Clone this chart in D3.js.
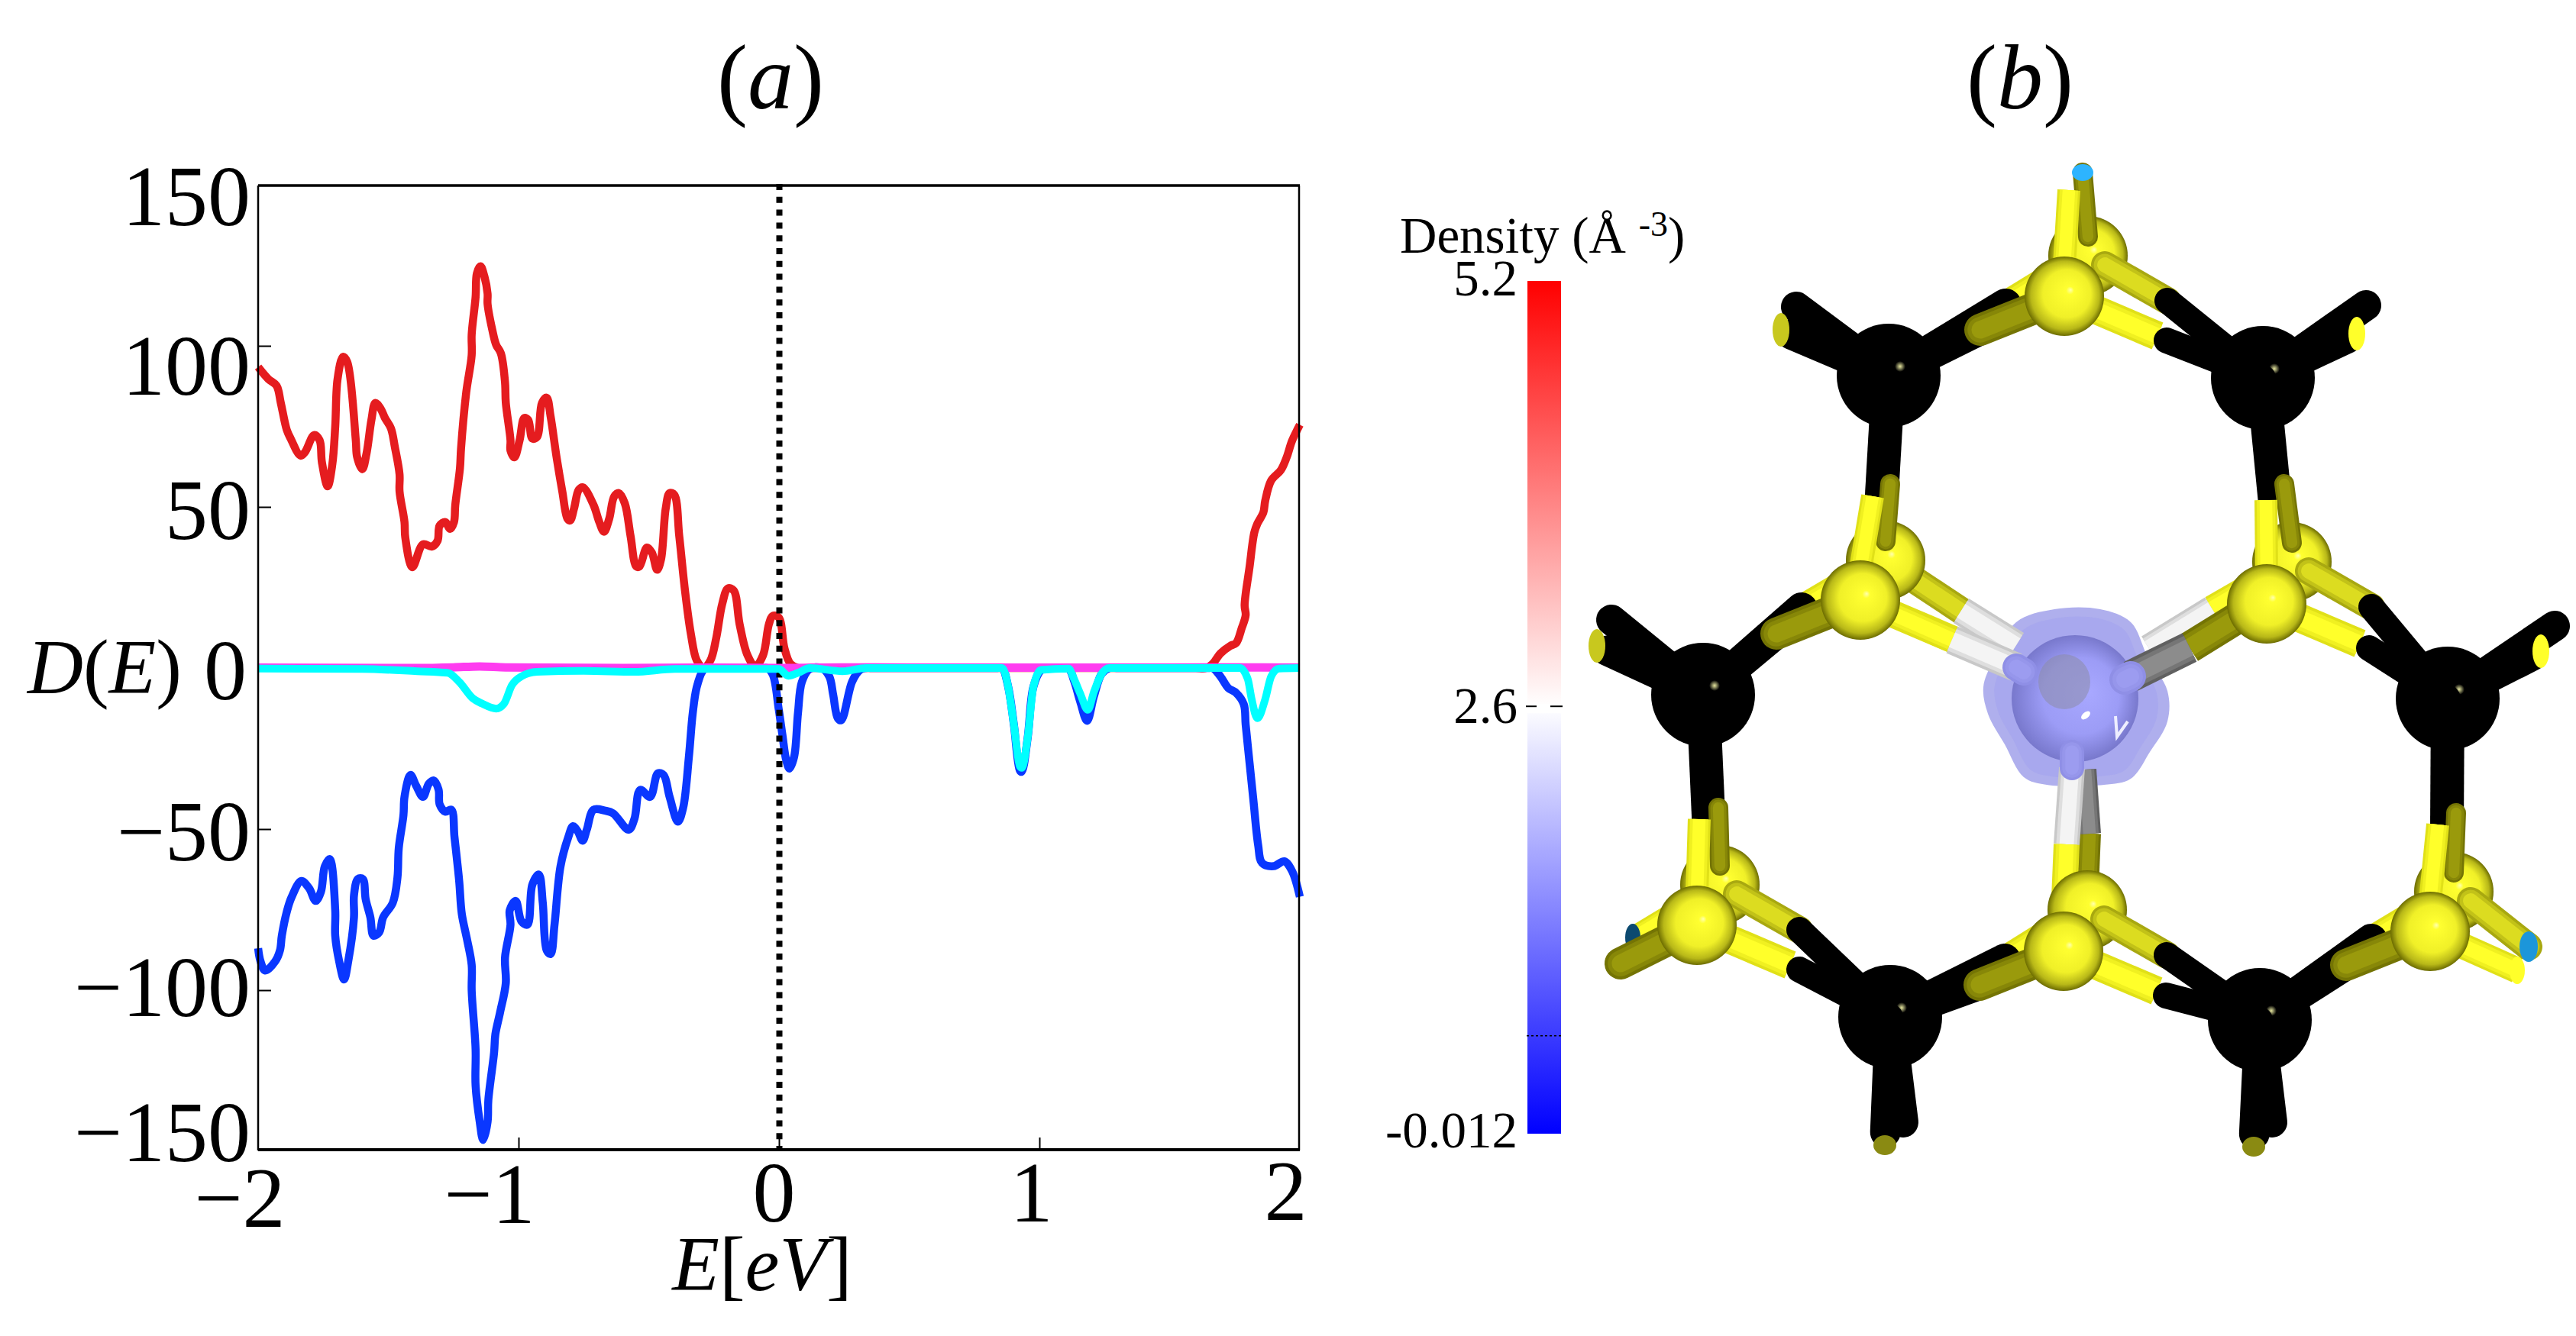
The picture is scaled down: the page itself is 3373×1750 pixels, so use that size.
<!DOCTYPE html>
<html><head><meta charset="utf-8"><script src="https://cdn.jsdelivr.net/npm/d3@7"></script>
<style>html,body{margin:0;background:#fff}svg{display:block}text{font-family:"Liberation Serif",serif;fill:#000}</style></head>
<body><svg id="c" width="3373" height="1750"></svg>
<script>
// ---- panel (a) data: density of states, E in eV ----
const redE=[-2,-1.961,-1.929,-1.913,-1.89,-1.875,-1.837,-1.82,-1.785,-1.764,-1.755,-1.733,-1.715,-1.704,-1.695,-1.674,-1.658,-1.625,-1.62,-1.6,-1.584,-1.565,-1.55,-1.531,-1.513,-1.49,-1.475,-1.457,-1.457,-1.438,-1.435,-1.408,-1.367,-1.333,-1.311,-1.303,-1.281,-1.263,-1.248,-1.243,-1.225,-1.221,-1.201,-1.18,-1.18,-1.165,-1.16,-1.146,-1.131,-1.119,-1.119,-1.101,-1.086,-1.068,-1.052,-1.049,-1.031,-1.031,-1.016,-.996,-.978,-.963,-.947,-.929,-.91,-.892,-.877,-.854,-.832,-.812,-.802,-.787,-.769,-.753,-.712,-.69,-.672,-.652,-.633,-.615,-.592,-.57,-.548,-.536,-.507,-.488,-.468,-.453,-.435,-.42,-.402,-.383,-.361,-.338,-.316,-.289,-.263,-.241,-.218,-.196,-.174,-.151,-.121,-.091,-.061,-.039,-.024,-.001,.021,.043,.073,.12,.2,.5,1.0,1.5,1.6,1.64,1.665,1.695,1.733,1.755,1.777,1.792,1.788,1.807,1.825,1.837,1.86,1.867,1.89,1.927,1.949,1.97,2];
const redD=[93.4,89.7,87.6,82.3,73.9,71.2,65.9,67,72.3,70.7,63.8,56.4,63.3,74.9,89.7,96.6,95,70.7,65.5,61.7,66.5,77,82.3,80.7,77.6,74.4,68.6,60.1,54.8,45.3,40.5,31.3,38.4,37.7,39.5,44.2,45.3,43.2,45.3,50.6,62,68,85.5,97.1,103.5,115.1,122.5,124.7,121.5,116.2,113,105,100.3,97.7,88.7,82.3,70.7,67.5,65.4,70.7,77.6,77,71.2,71.7,82.3,83.9,78.1,65.4,54.8,46.3,45.8,49.5,55.3,56.1,50.6,45.3,42.3,46.3,53.2,54.3,51.1,41,31.5,31.5,37.4,35.8,30.5,33.7,49.5,54.3,53.8,41,24.1,10.4,2.4,0,2.4,9.3,19.9,24.7,24.1,13.5,4,.5,4,13.5,16.2,15.7,6.1,1.4,0,0,0,0,0,0,0,0,1.3,4.5,6.9,7.7,12.4,16.4,19.5,31.4,42,44.8,48.3,51.9,58.2,61.4,65.3,70.5,75.5];
const blueE=[-2,-1.991,-1.973,-1.934,-1.916,-1.909,-1.89,-1.872,-1.834,-1.804,-1.779,-1.759,-1.744,-1.725,-1.704,-1.704,-1.689,-1.67,-1.654,-1.632,-1.632,-1.617,-1.598,-1.587,-1.569,-1.557,-1.535,-1.52,-1.483,-1.465,-1.46,-1.442,-1.438,-1.415,-1.393,-1.367,-1.345,-1.326,-1.307,-1.303,-1.281,-1.258,-1.246,-1.228,-1.218,-1.198,-1.18,-1.18,-1.165,-1.165,-1.149,-1.136,-1.119,-1.116,-1.094,-1.089,-1.071,-1.049,-1.052,-1.031,-1.034,-1.011,-.989,-.966,-.947,-.922,-.907,-.892,-.877,-.862,-.839,-.809,-.791,-.772,-.754,-.738,-.712,-.667,-.637,-.577,-.555,-.533,-.495,-.465,-.443,-.42,-.388,-.368,-.346,-.331,-.316,-.293,-.278,-.24,-.18,-.1,-.06,-.046,-.024,-.001,.013,.028,.04,.058,.073,.088,.118,.163,.193,.208,.226,.239,.281,.311,.334,.36,.4,.5,.6,.7,.8,.84,.857,.88,.902,.925,.932,.955,.977,1.007,1.03,1.07,1.112,1.134,1.157,1.183,1.209,1.239,1.269,1.3,1.35,1.45,1.55,1.62,1.65,1.665,1.695,1.725,1.755,1.785,1.792,1.807,1.822,1.84,1.855,1.9,1.94,1.97,2];
const blueD=[-87,-91,-93.9,-91,-87.6,-83.1,-75.7,-71.2,-66.1,-68.4,-72.3,-69.5,-61.6,-59.3,-75.2,-83.1,-91,-96.7,-91,-77.4,-70.6,-65.5,-65.5,-71.8,-77.4,-83.1,-82,-77.4,-72.9,-65,-55.9,-45.7,-40,-33.2,-36.6,-40,-36,-34.9,-37.8,-42.3,-44.6,-44,-52.5,-66.1,-76.3,-84.2,-92.2,-100.1,-118.3,-129.6,-140.9,-146.5,-140.9,-134.1,-119.4,-113.7,-106.9,-97.8,-89.9,-79.7,-75.2,-72.3,-78.6,-79.7,-67.2,-64.1,-72.9,-87.6,-88.8,-79.7,-61.6,-52.5,-49.1,-50.8,-53.6,-50.2,-44,-44.3,-45.1,-50.2,-46.8,-37.8,-40,-32.7,-33.2,-40,-47.7,-43.4,-27.6,-13.9,-6,-.9,0,0,0,0,0,0,-2,-12.8,-20.7,-28.7,-31.2,-27.6,-13.9,-4.3,-.3,0,-2.6,-8.3,-15.6,-16.2,-4.2,-.6,0,0,0,0,0,0,0,0,0,-5.8,-17.6,-31.8,-32.2,-21.6,-5.8,-.6,0,0,-.2,-4.2,-10.5,-16.4,-8.9,-1.8,0,0,0,0,0,0,0,0,-2.6,-6.2,-7.7,-11.3,-17.6,-29.5,-41.3,-55,-60.5,-61.5,-60,-63,-71];
const magentaE=[-2,-1.4,-1.25,-1.15,-1.05,-.6,-.3,.04,.24,.5,.93,1.18,1.5,1.85,2];
const magentaD=[.1,0,.2,.5,.2,0,.1,0,.2,.1,.1,.1,.1,.2,.1];
const cyanE=[-2,-1.6,-1.39,-1.273,-1.228,-1.176,-1.139,-1.086,-1.056,-1.026,-.989,-.929,-.75,-.555,-.4,-.001,.036,.073,.118,.244,.334,.857,.88,.902,.925,.932,.955,.977,1.007,1.112,1.134,1.157,1.186,1.209,1.239,1.269,1.77,1.8,1.815,1.837,1.867,1.89,1.92,2];
const cyanD=[-.2,-.3,-1,-1.5,-4.3,-9.4,-11.1,-12.6,-11.1,-5.4,-2.6,-1.2,-.9,-1.2,-.3,-.3,-2.4,-1.5,0,-1,0,0,-5.8,-17.6,-30.5,-31,-21.6,-5.8,-.6,-.2,-3.6,-8,-13,-7.5,-1.8,0,0,-3.4,-9.7,-15.6,-9.7,-2.6,-.2,0];
const xTicks=[-2,-1,0,1,2], yTicks=[-150,-100,-50,0,50,100,150];
const fermiEnergy=0;
// ---- panel (b) data ----
const barValues=[-0.012,2.6,5.2], barLabels=["-0.012","2.6","5.2"], barDotted=0.587;
const carbon=[[2473,492],[2963,495],[2230,910],[3205,915],[2475,1332],[2959,1336]];
const sulfur=[
 {f:[2703,388],b:[2734,335],uf:[6,-139],ub:[-7,-109],l:0,r:1,u:-1},
 {f:[2436,786],b:[2469,734],uf:[16,-136],ub:[6,-100],l:2,r:-2,u:0},
 {f:[2968,791],b:[3001,736],uf:[-1,-136],ub:[-10,-102],l:-2,r:3,u:1},
 {f:[2222,1212],b:[2252,1159],uf:[3,-139],ub:[-2,-101],l:-3,r:4,u:2},
 {f:[2702,1246],b:[2733,1192],uf:[4,-140],ub:[3,-100],l:4,r:5,u:-2},
 {f:[3182,1220],b:[3213,1168],uf:[10,-140],ub:[3,-103],l:5,r:-3,u:3}];
const carbonStubs=[[0,2352,402,2332,432,"#c8c81e"],[1,3098,400,3086,437,"#ffff2a"],[2,2110,812,2091,846,"#c8c81e"],[3,3345,820,3327,853,"#ffff2a"],[4,2492,1470,2468,1500,"#8a8a12"],[5,2975,1470,2951,1502,"#8a8a12"]];
const centre=[2717,915], centreR=83;
const blob=[[2690,798],[2750,798],[2790,815],[2812,860],[2838,905],[2838,945],[2815,985],[2790,1020],[2755,1028],[2680,1028],[2650,1018],[2625,975],[2603,935],[2597,900],[2610,865],[2640,815]];

const svg=d3.select("#c");
const x=d3.scaleLinear().domain([-2,2]).range([338,1702]);
const y=d3.scaleLinear().domain([-150,150]).range([1508,242]);
const lineSmooth=d3.line().curve(d3.curveCatmullRom.alpha(.5)).x(d=>x(d[0])).y(d=>y(d[1]));
const lineFlat=d3.line().curve(d3.curveMonotoneX).x(d=>x(d[0])).y(d=>y(d[1]));
const series=(e,v)=>e.map((a,i)=>[a,v[i]]);
const g=svg.append("g");
const fs=112;
const axB=g.append("g").attr("transform",`translate(0,${y(-150)-1})`).call(d3.axisBottom(x).tickValues(xTicks).tickSizeInner(-17).tickSizeOuter(0).tickPadding(0).tickFormat(d=>String(d).replace("-","\u2212")));
const axL=g.append("g").attr("transform",`translate(${x(-2)},0)`).call(d3.axisLeft(y).tickValues(yTicks).tickSizeInner(-17).tickSizeOuter(0).tickPadding(0).tickFormat(d=>String(d).replace("-","\u2212")));
[axB,axL].forEach(a=>{a.select(".domain").remove();a.selectAll("line").attr("stroke","#000").attr("stroke-width",2);
 a.selectAll("text").attr("font-size",fs).attr("font-family","Liberation Serif").attr("fill","#000").attr("text-anchor","end").attr("dy",null);});
const xDx={"-2":35,"-1":21,"0":21,"1":17,"2":9}, xBase={"-2":1607,"-1":1602,"0":1600,"1":1600,"2":1598};
axB.selectAll("text").attr("x",d=>xDx[d]).attr("y",d=>xBase[d]-y(-150)+1);
const yCenter={150:256,100:478,50:667,0:877,"-50":1088,"-100":1292,"-150":1482};
axL.selectAll("text").attr("x",d=>d===0?-15:-10).attr("y",d=>yCenter[d]+38-y(d));
axL.selectAll("g.tick").filter(d=>d===0||Math.abs(d)===150).select("line").remove();
axB.selectAll("g.tick").filter(d=>Math.abs(d)===2).select("line").remove();
const curve=(e,v,c,w,gen)=>g.append("path").datum(series(e,v)).attr("d",gen).attr("fill","none").attr("stroke",c).attr("stroke-width",w).attr("stroke-linejoin","miter").attr("stroke-miterlimit",3);
curve(redE,redD,"#e51c1f",10.5,lineSmooth);
curve(blueE,blueD,"#0a37ff",10.5,lineSmooth);
g.append("line").attr("x1",x(fermiEnergy)+.5).attr("x2",x(fermiEnergy)+.5).attr("y1",241).attr("y2",1506).attr("stroke","#000").attr("stroke-width",8).attr("stroke-dasharray","8 8.8");
curve(magentaE,magentaD,"#ff3cf0",11,lineFlat);
curve(cyanE,cyanD,"#00ffff",10,lineFlat);
const fr=[[338,243,1702,243,3.5],[338,243,338,1507,2.5],[338,1506,1702,1506,4],[1701,243,1701,1507,2.5]];
g.selectAll("line.fr").data(fr).join("line").attr("class","fr").attr("x1",d=>d[0]).attr("y1",d=>d[1]).attr("x2",d=>d[2]).attr("y2",d=>d[3]).attr("stroke","#000").attr("stroke-width",d=>d[4]);
function rich(xp,yp,size,parts,anchor){const t=svg.append("text").attr("x",xp).attr("y",yp).attr("font-size",size).attr("text-anchor",anchor||"middle");
 parts.forEach(p=>t.append("tspan").attr("font-style",p[1]?"italic":"normal").text(p[0]));return t;}
rich(1009,142,120,[["(",0],["a",1],[")",0]]);
rich(2645,142,120,[["(",0],["b",1],[")",0]]);
rich(36,908,101,[["D",1],["(",0],["E",1],[")",0]],"start");
rich(998,1690,101,[["E",1],["[",0],["eV",1],["]",0]]);
const by=d3.scaleLinear().domain([barValues[0],barValues[2]]).range([1485,368]);
const col=d3.scaleLinear().domain(barValues).range(["#0000ff","#ffffff","#ff0000"]);
const defs=svg.append("defs");
const lg=defs.append("linearGradient").attr("id","bar").attr("x1",0).attr("x2",0).attr("y1",1).attr("y2",0);
barValues.forEach(v=>lg.append("stop").attr("offset",(by(barValues[0])-by(v))/(by(barValues[0])-by(barValues[2]))).attr("stop-color",col(v)));
svg.append("rect").attr("x",2000).attr("width",44).attr("y",by(5.2)).attr("height",by(barValues[0])-by(5.2)).attr("fill","url(#bar)");
svg.append("rect").attr("x",1998).attr("width",48).attr("y",by(2.6)-3).attr("height",12).attr("fill","#fff");
svg.selectAll("line.b").data([[1998,2012],[2030,2046]]).join("line").attr("x1",d=>d[0]).attr("x2",d=>d[1]).attr("y1",by(2.6)).attr("y2",by(2.6)).attr("stroke","#000").attr("stroke-width",2);
svg.append("line").attr("x1",1999).attr("x2",2046).attr("y1",by(barDotted)).attr("y2",by(barDotted)).attr("stroke","#000").attr("stroke-width",1.5).attr("stroke-dasharray","3 3");
const labelBase=[1503,947,387];
barLabels.forEach((l,i)=>svg.append("text").attr("x",1987).attr("y",labelBase[i]).attr("text-anchor","end").attr("font-size",67).text(l));
const dt=svg.append("text").attr("x",1833).attr("y",331).attr("font-size",67);
dt.append("tspan").text("Density (Å ");dt.append("tspan").attr("font-size",46).attr("dy",-22).text("-3");dt.append("tspan").attr("dy",22).text(")");
// ---- structure ----
const sx=d3.scaleLinear().domain([2000,3373]).range([2000,3373]), sy=d3.scaleLinear().domain([0,1750]).range([0,1750]);
const ball=(id,stops,cx,cy)=>{const r=defs.append("radialGradient").attr("id",id).attr("cx",.5).attr("cy",.5).attr("r",.5).attr("fx",cx).attr("fy",cy);stops.forEach(s=>r.append("stop").attr("offset",s[0]).attr("stop-color",s[1]));};
ball("sul",[[0,"#ffffb0"],[.1,"#ffff30"],[.6,"#f0f028"],[.86,"#b8b818"],[1,"#6c6c00"]],.58,.42);
ball("cen",[[0,"#a8a8ff"],[.6,"#9c9cf6"],[1,"#7878cc"]],.62,.45);
ball("spec",[[0,"#e8e8a0"],[1,"#000000"]],.5,.5);
const m=svg.append("g");
const S={bright:["#e0e018","#ffff2a"],mid:["#a8a810","#dcdc20"],olive:["#747404","#9a9a0c"],white:["#c8c8c8","#f4f4f4"],grey:["#606060","#8c8c8c"],tip:["#8f8fe6","#9c9cf0"]};
function cyl(p,q,w,t,cap){
 if(t==="black"){m.append("line").attr("x1",sx(p[0])).attr("y1",sy(p[1])).attr("x2",sx(q[0])).attr("y2",sy(q[1])).attr("stroke","#000").attr("stroke-width",w).attr("stroke-linecap",cap||"round");return;}
 const mix=d3.interpolateRgb(S[t][0],S[t][1]);
 [[0,1],[.5,.8],[1,.55]].forEach(([k,f])=>m.append("line").attr("x1",sx(p[0])).attr("y1",sy(p[1])).attr("x2",sx(q[0])).attr("y2",sy(q[1])).attr("stroke",mix(k)).attr("stroke-width",w*f).attr("stroke-linecap",cap||"butt"));}
const add=(a,d)=>[a[0]+d[0],a[1]+d[1]];
const mid=(a,b)=>[(a[0]+b[0])/2,(a[1]+b[1])/2];
function cap(p,c,rx,ry){m.append("ellipse").attr("cx",sx(p[0])).attr("cy",sy(p[1])).attr("rx",rx||13).attr("ry",ry||20).attr("fill",c);}
carbonStubs.forEach(s=>{const a=carbon[s[0]];const e=[a[0]+(s[3]-a[0])*.9,a[1]+(s[4]-a[1])*.9];cyl(a,[s[1],s[2]],40,"black");cyl(a,e,40,"black");});
carbonStubs.forEach((s,i)=>i<4?cap([s[3],s[4]],s[5],11,22):cap([s[3],s[4]],s[5],15,13));
sulfur.forEach(P=>{
 const lb=add(P.f,[-77,11]), lf=add(P.f,[-110,44]), rb=add(P.b,[104,59]), rf=add(P.f,[122,52]);
 if(P.l>=0){cyl(lb,add(P.b,[-20,10]),36,"bright");cyl(carbon[P.l],lb,42,"black");}
 else if(P.l===-3){cyl(P.b,[2138,1228],28,"bright");cap([2138,1228],"#0c4a70",10,18);}
 else {cyl(add(P.b,[-10,6]),[2896,797],34,"bright");cyl([2896,797],[2813,848],34,"white");}
 if(P.r>=0){cyl(P.f,rf,38,"bright");cyl(carbon[P.r],add(rf,[12,6]),34,"black");}
 else if(P.r===-3){cyl(P.f,[3296,1271],34,"bright");cap([3296,1271],"#ffff2a",10,18);}
 else {cyl(P.f,rf,36,"bright");}
 if(P.l>=0){cyl(carbon[P.l],lf,40,"black");}
 const ub=add(P.b,P.ub), uf=add(P.f,P.uf);
 if(P.u>=0){cyl(carbon[P.u],add(mid(ub,uf),[0,14]),44,"black","butt");}
});
carbon.forEach(c=>{m.append("circle").attr("cx",sx(c[0])).attr("cy",sy(c[1])).attr("r",68).attr("fill","#000");
 m.append("ellipse").attr("cx",sx(c[0]+15)).attr("cy",sy(c[1]-12)).attr("rx",7).attr("ry",7).attr("fill","url(#spec)");});
const blobLine=d3.line().curve(d3.curveCatmullRomClosed).x(d=>sx(d[0])).y(d=>sy(d[1]));
m.append("path").attr("d",blobLine(blob)).attr("fill","#a4a4ea").attr("fill-opacity",.88);
m.append("path").attr("d",blobLine(blob.map(d=>[centre[0]+(d[0]-centre[0])*.88,centre[1]+(d[1]-centre[1])*.9]))).attr("fill","#9a9af0").attr("fill-opacity",.35);
m.append("circle").attr("cx",sx(centre[0])).attr("cy",sy(centre[1])).attr("r",centreR).attr("fill","url(#cen)");
m.append("ellipse").attr("cx",sx(centre[0]-14)).attr("cy",sy(centre[1]-22)).attr("rx",34).attr("ry",36).attr("fill","#8c8ca8").attr("fill-opacity",.55);
m.append("ellipse").attr("cx",sx(centre[0]+14)).attr("cy",sy(centre[1]+22)).attr("rx",7).attr("ry",4).attr("fill","#fff").attr("transform",`rotate(-40 ${sx(centre[0]+14)} ${sy(centre[1]+22)})`);
m.append("path").attr("d",`M${sx(2770)},${sy(938)}L${sx(2772)},${sy(965)}L${sx(2786)},${sy(945)}`).attr("fill","none").attr("stroke","#eef").attr("stroke-width",4);
cyl(add(sulfur[1].b,[25,17]),[2568,800],36,"mid","round");cyl([2568,800],[2640,845],38,"white");
cyl(add(sulfur[1].f,[20,8]),[2556,838],34,"bright");cyl([2556,838],[2640,874],38,"white");cyl([2640,874],[2650,880],36,"tip","round");
cyl(add(sulfur[2].f,[-25,10]),[2867,848],42,"olive");cyl([2867,848],[2790,886],42,"grey");cyl([2790,886],[2782,890],40,"tip","round");
cyl([2733,1164],[2736,1092],30,"olive");cyl([2736,1092],[2730,1008],30,"grey");
cyl([2706,1106],[2713,1006],34,"white");cyl([2713,1006],[2713,985],32,"tip","round");
cyl([2702,1200],[2706,1106],34,"bright");
sulfur.forEach(P=>{
 const lf=add(P.f,[-110,44]), ub=add(P.b,P.ub), uf=add(P.f,P.uf), rb=add(P.b,[104,59]);
 m.append("circle").attr("cx",sx(P.b[0])).attr("cy",sy(P.b[1])).attr("r",52).attr("fill","url(#sul)");
 if(P.r>=0||P.r===-3){const end=P.r===-3?[3311,1240]:rb;cyl(add(P.b,[22,12]),end,36,"mid","round");
  if(P.r>=0)cyl(carbon[P.r],end,34,"black");else cap(end,"#1c96da",12,20);}
 if(P.u!==-2){cyl(add(P.b,[0,-25]),ub,26,"olive","round");}
 if(P.u!==-2)cyl(add(P.f,[0,-40]),uf,30,"bright");
 if(P.l>=0||P.l===-3){const e=P.l===-3?[2122,1262]:lf;cyl(P.f,e,42,"olive","round");}
 m.append("circle").attr("cx",sx(P.f[0])).attr("cy",sy(P.f[1])).attr("r",52).attr("fill","url(#sul)");
});
cap(add(sulfur[0].b,sulfur[0].ub),"#2db4ff",14,11);
</script></body></html>
